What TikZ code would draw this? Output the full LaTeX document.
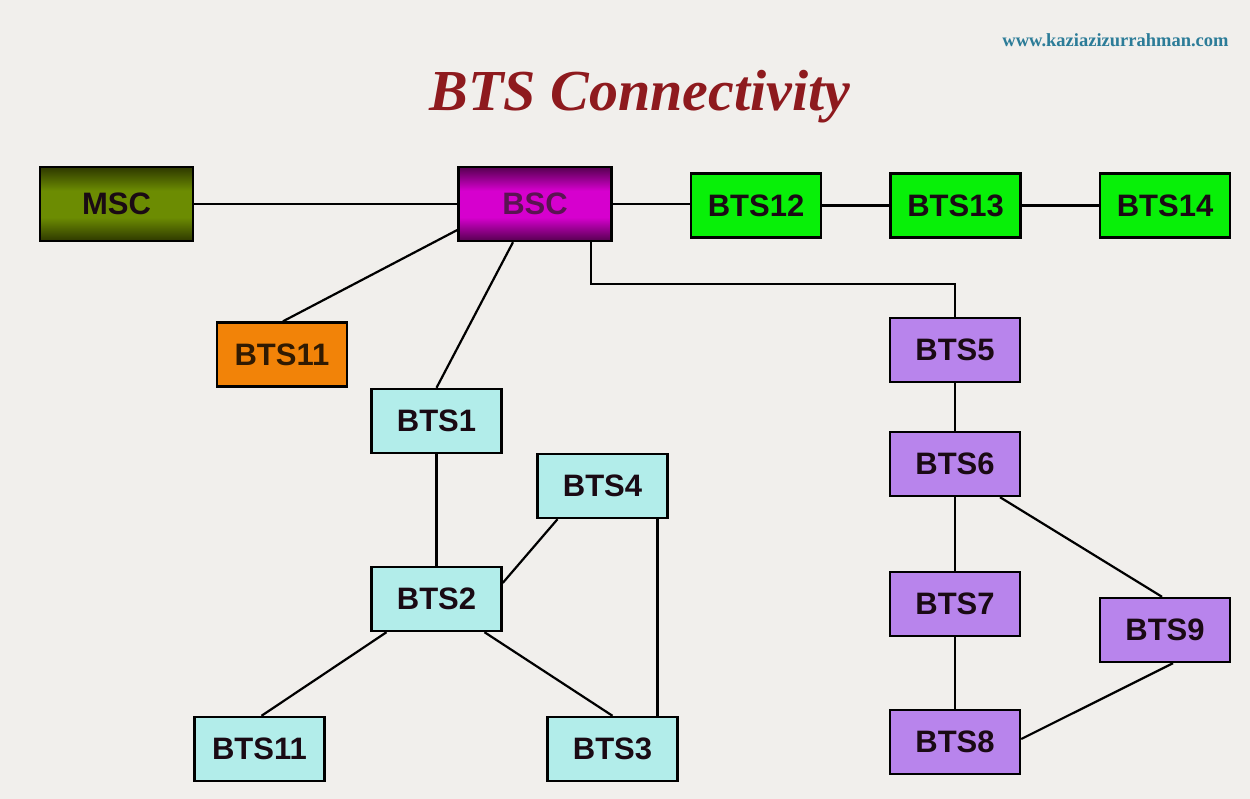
\documentclass[tikz,border=0pt]{standalone}
\usepackage{fontspec}
\setmainfont{Liberation Sans}
\newfontfamily\titlefont{Liberation Serif}
\usetikzlibrary{calc}
\definecolor{bgc}{HTML}{F1EFEC}
\definecolor{olivedark}{HTML}{2E3800}
\definecolor{olivemid}{HTML}{6C8C02}
\definecolor{magdark}{HTML}{560050}
\definecolor{magmid}{HTML}{D600CE}
\definecolor{bsctext}{HTML}{5A1452}
\definecolor{greenbox}{HTML}{08F008}
\definecolor{orangebox}{HTML}{F28308}
\definecolor{cyanbox}{HTML}{B2EDEA}
\definecolor{purplebox}{HTML}{B884EC}
\definecolor{titlered}{HTML}{8E1A1E}
\definecolor{webteal}{HTML}{2C7C98}
\definecolor{darktext}{HTML}{1A0A14}
\pgfdeclareverticalshading{olivesh}{100bp}{color(0bp)=(olivedark); color(25bp)=(olivedark); color(41bp)=(olivemid); color(59bp)=(olivemid); color(75bp)=(olivedark); color(100bp)=(olivedark)}
\pgfdeclareverticalshading{magsh}{100bp}{color(0bp)=(magdark); color(25bp)=(magdark); color(41bp)=(magmid); color(59bp)=(magmid); color(75bp)=(magdark); color(100bp)=(magdark)}
\tikzset{
  box/.style={draw=black, line width=2.4pt, inner sep=0pt, minimum width=130pt, minimum height=64pt,
    font=\fontsize{31}{34}\selectfont\bfseries, text=darktext},
  bigbox/.style={box, minimum width=153pt, minimum height=74pt},
  greenstyle/.style={box, fill=greenbox},
  cyanstyle/.style={box, fill=cyanbox},
  purplestyle/.style={box, fill=purplebox},
  wire/.style={line width=2.2pt, draw=black}
}
\begin{document}
\begin{tikzpicture}[x=1pt,y=-1pt]
\fill[bgc] (0,0) rectangle (1250,799);
\useasboundingbox (0,0) rectangle (1250,799);

\node[font=\titlefont\fontsize{18.5}{20}\selectfont\bfseries, text=webteal] (web) at (1115.5,40) {www.kaziazizurrahman.com};
\node[font=\titlefont\fontsize{58}{62}\selectfont\bfseries\itshape, text=titlered] (title) at (640,97) {BTS Connectivity};

\node[bigbox, shading=olivesh] (msc) at (116.5,204) {MSC};
\node[bigbox, shading=magsh, text=bsctext] (bsc) at (535,204) {BSC};
\node[greenstyle] (bts12) at (756,205.5) {BTS12};
\node[greenstyle] (bts13) at (955.5,205.5) {BTS13};
\node[greenstyle] (bts14) at (1165,205.5) {BTS14};

\node[box, fill=orangebox, text=black!80!orangebox] (bts11a) at (282,354.5) {BTS11};
\node[cyanstyle] (bts1) at (436.5,421) {BTS1};
\node[cyanstyle] (bts4) at (602.5,486) {BTS4};
\node[cyanstyle] (bts2) at (436.5,599) {BTS2};
\node[cyanstyle] (bts11b) at (259.5,749) {BTS11};
\node[cyanstyle] (bts3) at (612.5,749) {BTS3};

\node[purplestyle] (bts5) at (955,350) {BTS5};
\node[purplestyle] (bts6) at (955,464) {BTS6};
\node[purplestyle] (bts7) at (955,604) {BTS7};
\node[purplestyle] (bts8) at (955,742) {BTS8};
\node[purplestyle] (bts9) at (1165,630) {BTS9};

\draw[wire] (msc.east) -- (bsc.west);
\draw[wire] (bsc.east) -- (bsc.east -| bts12.west);
\draw[wire] (bts12.east) -- (bts13.west);
\draw[wire] (bts13.east) -- (bts14.west);
\draw[wire] ([yshift=-26pt]bsc.west) -- ([xshift=1pt]bts11a.north);
\draw[wire] ([xshift=-22pt]bsc.south) -- (bts1.north);
\draw[wire] ([xshift=56pt]bsc.south) |- ([yshift=33pt]bts5.north) -- (bts5.north);
\draw[wire] (bts1.south) -- (bts2.north);
\draw[wire] ([xshift=-45pt]bts4.south) -- ([yshift=16pt]bts2.east);
\draw[wire] ([xshift=55pt]bts4.south) -- ([xshift=45pt]bts3.north);
\draw[wire] ([xshift=-50pt]bts2.south) -- ([xshift=2pt]bts11b.north);
\draw[wire] ([xshift=48pt]bts2.south) -- (bts3.north);
\draw[wire] (bts5.south) -- (bts6.north);
\draw[wire] (bts6.south) -- (bts7.north);
\draw[wire] (bts7.south) -- (bts8.north);
\draw[wire] ([xshift=45pt]bts6.south) -- ([xshift=-3pt]bts9.north);
\draw[wire] ([xshift=8pt]bts9.south) -- ([yshift=3pt]bts8.east);
\end{tikzpicture}
\end{document}
